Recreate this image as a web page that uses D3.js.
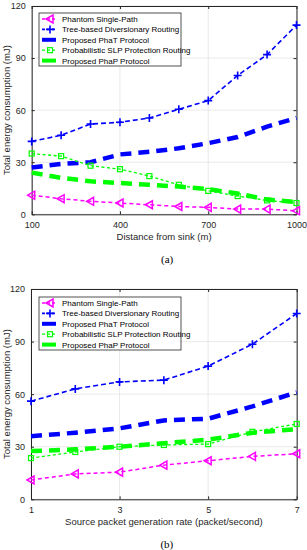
<!DOCTYPE html>
<html>
<head>
<meta charset="utf-8">
<script src="https://cdn.jsdelivr.net/npm/d3@7"></script>
<style>
  body { margin: 0; background: #fff; }
  text { font-family: "Liberation Sans", Arial, sans-serif; }
</style>
</head>
<body>
<svg id="chart" width="307" height="550"></svg>
<script>
// panel (a): energy vs distance from sink
const distances = [100, 200, 300, 400, 500, 600, 700, 800, 900, 1000];
const phantomA = [11, 9, 7.5, 6.5, 5.5, 4.5, 4, 3, 3, 2];
const treeA = [42, 45.5, 52, 53, 55.5, 60.5, 65.5, 80, 92, 109];
const phatA = [27, 29, 30, 34.5, 36, 38, 41, 44.5, 50.5, 55.5];
const probA = [35, 33.5, 28, 26, 22, 17, 13.5, 10.5, 8, 6.5];
const phapA = [24, 21, 19, 18, 17, 16, 14.5, 12, 8.5, 7];
const xTicksA = [100, 400, 700, 1000];

// panel (b): energy vs packet generation rate
const rates = [1, 2, 3, 4, 5, 6, 7];
const phantomB = [11, 14.5, 15.5, 19.5, 22, 24.5, 26];
const treeB = [56, 63, 67, 68, 76, 88.5, 106];
const phatB = [36, 38, 40.5, 45, 46, 53, 61];
const probB = [23.5, 27, 30, 31, 31.5, 38.5, 43];
const phapB = [27.5, 28.5, 30, 32, 34, 38, 40];
const xTicksB = [1, 3, 5, 7];

const yTicks = [0, 30, 60, 90, 120];
const seriesNames = ["Phantom Single-Path", "Tree-based Diversionary Routing",
  "Proposed  PhaT Protocol", "Probabilistic SLP Protection Routing", "Proposed  PhaP Protocol"];

const styles = [
  { color: "#ff00ff", width: 1.5, dash: "4,3", marker: "tri" },
  { color: "#0000ff", width: 1.6, dash: "5,3", marker: "plus" },
  { color: "#0000ff", width: 4.5, dash: "11,7", marker: null },
  { color: "#00ff00", width: 1.3, dash: "3,2.5", marker: "square" },
  { color: "#00ff00", width: 4.5, dash: "11,7", marker: null }
];

const svg = d3.select("#chart");

function drawMarker(g, type, color, x, y) {
  if (type === "tri") {
    g.append("path")
      .attr("d", `M${x - 4},${y} L${x + 3},${y - 4} L${x + 3},${y + 4} Z`)
      .attr("fill", "none").attr("stroke", color).attr("stroke-width", 1.5);
  } else if (type === "plus") {
    g.append("path")
      .attr("d", `M${x - 4},${y} H${x + 4} M${x},${y - 4} V${y + 4}`)
      .attr("stroke", color).attr("stroke-width", 1.6);
  } else if (type === "square") {
    g.append("rect")
      .attr("x", x - 2.5).attr("y", y - 2.5).attr("width", 5).attr("height", 5)
      .attr("fill", "none").attr("stroke", color).attr("stroke-width", 1.2);
  }
}

function drawPanel(opt) {
  const { top, bottom, left, right, xs, xDomain, xTicks, data, xLabel, tag, legendTop } = opt;
  const g = svg.append("g");
  const x = d3.scaleLinear().domain(xDomain).range([left, right]);
  const y = d3.scaleLinear().domain([0, 120]).range([bottom, top]);
  const fmt = d3.format("d");

  // grid
  g.append("g").selectAll("line").data(xTicks).join("line")
    .attr("x1", d => x(d)).attr("x2", d => x(d)).attr("y1", top).attr("y2", bottom)
    .attr("stroke", "#e3e3e3").attr("stroke-width", 0.8);
  g.append("g").selectAll("line").data(yTicks).join("line")
    .attr("x1", left).attr("x2", right).attr("y1", d => y(d)).attr("y2", d => y(d))
    .attr("stroke", "#e3e3e3").attr("stroke-width", 0.8);

  // axes with inward ticks
  const axStyle = sel => {
    sel.select(".domain").attr("stroke", "#262626");
    sel.selectAll(".tick line").attr("stroke", "#262626");
    sel.selectAll("text").attr("fill", "#262626").style("font-size", "9px")
      .style("font-family", "Liberation Sans, Arial, sans-serif");
  };
  g.append("g").attr("transform", `translate(0,${bottom})`)
    .call(d3.axisBottom(x).tickValues(xTicks).tickFormat(fmt).tickSizeInner(-3).tickSizeOuter(0).tickPadding(7))
    .call(axStyle);
  g.append("g").attr("transform", `translate(0,${top})`)
    .call(d3.axisTop(x).tickValues(xTicks).tickSizeInner(-3).tickSizeOuter(0).tickFormat(""))
    .call(axStyle);
  g.append("g").attr("transform", `translate(${left},0)`)
    .call(d3.axisLeft(y).tickValues(yTicks).tickFormat(fmt).tickSizeInner(-3).tickSizeOuter(0).tickPadding(6))
    .call(axStyle);
  g.append("g").attr("transform", `translate(${right},0)`)
    .call(d3.axisRight(y).tickValues(yTicks).tickSizeInner(-3).tickSizeOuter(0).tickFormat(""))
    .call(axStyle);

  // series
  const line = d3.line().x((d, i) => x(xs[i])).y(d => y(d));
  const order = [2, 4, 1, 3, 0];
  order.forEach(k => {
    const s = styles[k];
    g.append("path").datum(data[k]).attr("d", line)
      .attr("fill", "none").attr("stroke", s.color).attr("stroke-width", s.width)
      .attr("stroke-dasharray", s.dash);
    if (s.marker) {
      data[k].forEach((v, i) => drawMarker(g, s.marker, s.color, x(xs[i]), y(v)));
    }
  });

  // labels
  g.append("text").attr("x", (left + right) / 2).attr("y", bottom + 26)
    .attr("text-anchor", "middle").style("font-size", "9.5px").attr("fill", "#262626")
    .text(xLabel);
  g.append("text")
    .attr("transform", `translate(10,${(top + bottom) / 2}) rotate(-90)`)
    .attr("text-anchor", "middle").style("font-size", "9.5px").attr("fill", "#262626")
    .text("Total energy consumption (mJ)");
  g.append("text").attr("x", (left + right) / 2 + 3).attr("y", bottom + 49)
    .attr("text-anchor", "middle").style("font-size", "11px")
    .style("font-family", "Liberation Serif, Times New Roman, serif")
    .text(tag);

  // legend
  const lg = g.append("g");
  lg.append("rect").attr("x", 39).attr("y", legendTop).attr("width", 142).attr("height", 53)
    .attr("fill", "#fff").attr("stroke", "#262626").attr("stroke-width", 0.8);
  seriesNames.forEach((name, k) => {
    const s = styles[k];
    const ly = legendTop + 6 + k * 10.4;
    lg.append("line").attr("x1", 42).attr("x2", 56).attr("y1", ly).attr("y2", ly)
      .attr("stroke", s.color).attr("stroke-width", s.width > 3 ? 4 : s.width)
      .attr("stroke-dasharray", s.width > 3 ? null : "3,2");
    if (s.marker) drawMarker(lg, s.marker, s.color, 50, ly);
    lg.append("text").attr("x", 62).attr("y", ly + 3)
      .style("font-size", "8px").attr("fill", "#000").text(name);
  });
}

drawPanel({
  top: 6, bottom: 214.3, left: 31.7, right: 296.5,
  xs: distances, xDomain: [100, 1000], xTicks: xTicksA,
  data: [phantomA, treeA, phatA, probA, phapA],
  xLabel: "Distance from sink (m)", tag: "(a)", legendTop: 13
});

drawPanel({
  top: 289, bottom: 499.3, left: 31, right: 296.7,
  xs: rates, xDomain: [1, 7], xTicks: xTicksB,
  data: [phantomB, treeB, phatB, probB, phapB],
  xLabel: "Source packet generation rate (packet/second)", tag: "(b)", legendTop: 297
});
</script>
</body>
</html>
